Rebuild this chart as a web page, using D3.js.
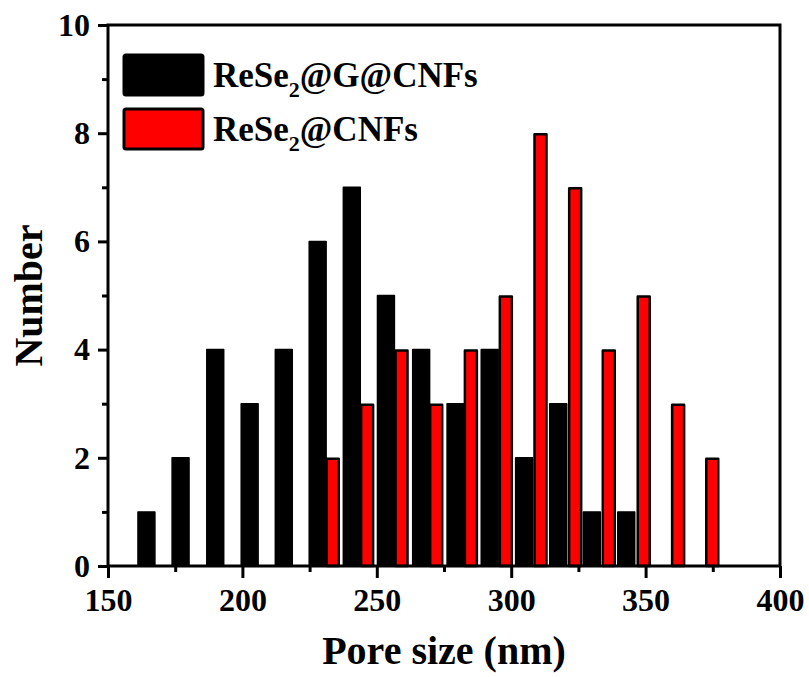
<!DOCTYPE html>
<html>
<head>
<meta charset="utf-8">
<script src="https://d3js.org/d3.v7.min.js"></script>
<style>
  body { margin: 0; background: #fff; }
  text { font-family: "Times New Roman", "Liberation Serif", serif; font-weight: bold; fill: #000; }
</style>
</head>
<body>
<script>
// data (bin centres in nm, counts)
var blackCenters = [164.3, 177, 189.9, 202.7, 215.4, 228, 240.7, 253.4, 266.5, 279.3, 292, 304.8, 317.5, 330, 342.8];
var blackCounts  = [1, 2, 4, 3, 4, 6, 7, 5, 4, 3, 4, 2, 3, 1, 1];
var redCenters   = [233.6, 246.4, 259.2, 272.1, 285, 298, 310.9, 323.8, 336.3, 349.3, 362.1, 374.8];
var redCounts    = [2, 3, 4, 3, 4, 5, 8, 7, 4, 5, 3, 2];

var xTicks = [150, 200, 250, 300, 350, 400];
var yTicks = [0, 2, 4, 6, 8, 10];
var seriesNames = ["ReSe|2|@G@CNFs", "ReSe|2|@CNFs"];
var seriesColors = ["#000000", "#ff0000"];

var width = 809, height = 677;
var margin = {left: 108, right: 29, top: 25, bottom: 111};

var x = d3.scaleLinear().domain([150, 400]).range([margin.left, width - margin.right]);
var y = d3.scaleLinear().domain([0, 10]).range([height - margin.bottom, margin.top]);

var svg = d3.select("body").append("svg")
    .attr("width", width)
    .attr("height", height);

var blackW = 6.3, redW = 5.2; // bar widths in nm

// black bars
svg.append("g").selectAll("rect")
    .data(blackCenters)
    .enter().append("rect")
    .attr("x", function(d) { return x(d - blackW / 2); })
    .attr("y", function(d, i) { return y(blackCounts[i]); })
    .attr("width", function(d) { return x(d + blackW / 2) - x(d - blackW / 2); })
    .attr("height", function(d, i) { return y(0) - y(blackCounts[i]); })
    .attr("fill", "#000")
    .attr("stroke", "#000")
    .attr("stroke-width", 1.5)
    .attr("stroke-linejoin", "round");

// red bars
svg.append("g").selectAll("rect")
    .data(redCenters)
    .enter().append("rect")
    .attr("x", function(d) { return x(d - redW / 2) + 1; })
    .attr("y", function(d, i) { return y(redCounts[i]) + 1; })
    .attr("width", function(d) { return x(d + redW / 2) - x(d - redW / 2) - 2; })
    .attr("height", function(d, i) { return y(0) - y(redCounts[i]) - 1; })
    .attr("fill", "#ff0000")
    .attr("stroke", "#000")
    .attr("stroke-width", 2.5)
    .attr("stroke-linejoin", "round");

// axes with minor ticks
var xMinor = xTicks.slice(0, -1).map(function(d) { return d + 25; });
var yMinor = yTicks.slice(0, -1).map(function(d) { return d + 1; });

var xAxis = svg.append("g")
    .attr("transform", "translate(0," + y(0) + ")")
    .call(d3.axisBottom(x).tickValues(xTicks).tickSize(12).tickPadding(10).tickFormat(d3.format("d")));
svg.append("g")
    .attr("transform", "translate(0," + y(0) + ")")
    .call(d3.axisBottom(x).tickValues(xMinor).tickSize(6).tickFormat(""));

var yAxis = svg.append("g")
    .attr("transform", "translate(" + x(150) + ",0)")
    .call(d3.axisLeft(y).tickValues(yTicks).tickSize(10).tickPadding(8).tickFormat(d3.format("d")));
svg.append("g")
    .attr("transform", "translate(" + x(150) + ",0)")
    .call(d3.axisLeft(y).tickValues(yMinor).tickSize(6).tickFormat(""));

svg.selectAll(".domain").remove();
svg.selectAll(".tick line").attr("stroke", "#000").attr("stroke-width", 3);
svg.selectAll(".tick text").style("font-size", "32px")
    .style("font-family", "'Times New Roman', 'Liberation Serif', serif")
    .style("font-weight", "bold");

// frame
svg.append("rect")
    .attr("x", x(150))
    .attr("y", y(10))
    .attr("width", x(400) - x(150))
    .attr("height", y(0) - y(10))
    .attr("fill", "none")
    .attr("stroke", "#000")
    .attr("stroke-width", 3);

// axis titles
svg.append("text")
    .attr("x", (x(150) + x(400)) / 2)
    .attr("y", 664)
    .attr("text-anchor", "middle")
    .style("font-size", "40px")
    .text("Pore size (nm)");

svg.append("text")
    .attr("transform", "translate(42," + ((y(0) + y(10)) / 2) + ") rotate(-90)")
    .attr("text-anchor", "middle")
    .style("font-size", "40px")
    .text("Number");

// legend
var legend = svg.selectAll("g.legend")
    .data(seriesNames)
    .enter().append("g")
    .attr("class", "legend")
    .attr("transform", function(d, i) { return "translate(0," + (i * 54) + ")"; });

legend.append("rect")
    .attr("x", 124)
    .attr("y", 55)
    .attr("width", 79)
    .attr("height", 40)
    .attr("rx", 2)
    .attr("fill", function(d, i) { return seriesColors[i]; })
    .attr("stroke", "#000")
    .attr("stroke-width", 3);

legend.append("text")
    .attr("x", 213)
    .attr("y", 87)
    .style("font-size", "35px")
    .each(function(d) {
        var parts = d.split("|");
        var t = d3.select(this);
        t.append("tspan").text(parts[0]);
        t.append("tspan").attr("dy", 10).style("font-size", "22px").text(parts[1]);
        t.append("tspan").attr("dy", -10).text(parts[2]);
    });
</script>
</body>
</html>
